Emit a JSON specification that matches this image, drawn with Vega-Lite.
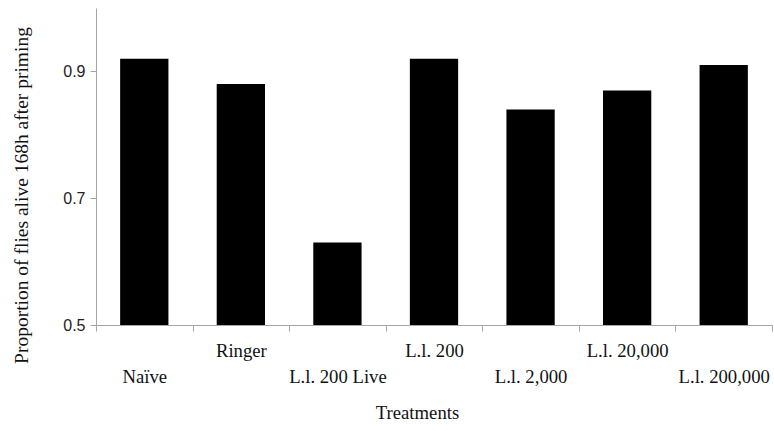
{
  "$schema": "https://vega.github.io/schema/vega-lite/v6.json",
  "autosize": {"type": "none"},
  "padding": {"left": 96, "top": 8, "right": 2, "bottom": 106},
  "width": 676,
  "height": 317,
  "background": "white",
  "data": {
    "values": [
      {"treatment": "Naïve", "proportion": 0.92},
      {"treatment": "Ringer", "proportion": 0.88},
      {"treatment": "L.l. 200 Live", "proportion": 0.63},
      {"treatment": "L.l. 200", "proportion": 0.92},
      {"treatment": "L.l. 2,000", "proportion": 0.84},
      {"treatment": "L.l. 20,000", "proportion": 0.87},
      {"treatment": "L.l. 200,000", "proportion": 0.91}
    ]
  },
  "config": {
    "view": {"stroke": null},
    "axis": {
      "labelColor": "#111",
      "titleColor": "#111",
      "titleFontWeight": "normal",
      "domainColor": "#a6a6a6",
      "tickColor": "#a6a6a6",
      "grid": false
    }
  },
  "mark": {"type": "bar", "color": "black", "clip": true, "width": {"band": 0.5}},
  "encoding": {
    "x": {
      "field": "treatment",
      "type": "nominal",
      "sort": null,
      "scale": {"paddingInner": 0, "paddingOuter": 0},
      "axis": {
        "title": "Treatments",
        "labelFont": "Liberation Serif",
        "titleFont": "Liberation Serif",
        "labelFontSize": 18.7,
        "titleFontSize": 18.7,
        "labelAngle": 0,
        "tickBand": "extent",
        "tickSize": 6,
        "labelPadding": 10,
        "labelBaseline": "top",
        "labelLineHeight": 26,
        "labelExpr": "(datum.label == 'Naïve' || datum.label == 'L.l. 200 Live' || datum.label == 'L.l. 2,000' || datum.label == 'L.l. 200,000') ? ['', datum.label] : datum.label",
        "labelOverlap": false,
        "titleX": 321,
        "titleY": 87,
        "titleBaseline": "middle",
        "titleAlign": "center"
      }
    },
    "y": {
      "field": "proportion",
      "type": "quantitative",
      "scale": {"domain": [0.5, 1.0], "nice": false, "zero": false},
      "axis": {
        "title": "Proportion of flies alive 168h after priming",
        "labelFont": "Liberation Sans",
        "labelFontSize": 16,
        "labelColor": "#222",
        "titleFont": "Liberation Serif",
        "titleFontSize": 19.5,
        "values": [0.5, 0.7, 0.9],
        "format": ".1f",
        "tickSize": 6,
        "labelPadding": 5,
        "titleX": -75,
        "titleY": 187,
        "titleBaseline": "middle",
        "titleAlign": "center"
      }
    }
  }
}
